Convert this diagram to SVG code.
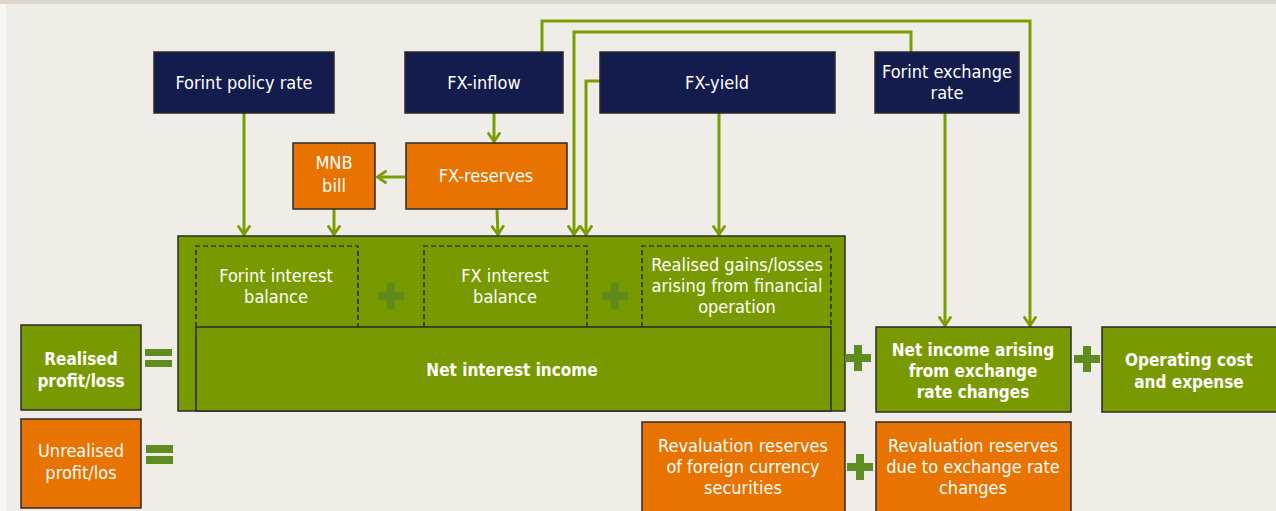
<svg xmlns="http://www.w3.org/2000/svg" width="1276" height="511" viewBox="0 0 1276 511">
<defs>
<marker id="arr" viewBox="0 0 11 14" markerWidth="11" markerHeight="14" refX="10" refY="7" orient="auto" markerUnits="userSpaceOnUse">
<path d="M0.5,0.8 L9.5,7 L0.5,13.2" fill="none" stroke="#7a9e00" stroke-width="2.8"/>
</marker>
</defs>
<style>
.navy{fill:#141c4d;stroke:#2a2a2a;stroke-width:1.5}
.org{fill:#e97300;stroke:#2a2a2a;stroke-width:1.5}
.grn{fill:#789a00;stroke:#2a2a2a;stroke-width:1.5}
.dash{fill:none;stroke:#111;stroke-width:1.2;stroke-dasharray:5 3}
.t{font-family:"DejaVu Sans Condensed","DejaVu Sans",sans-serif;font-size:18px;fill:#fff;text-anchor:middle}
.b{font-weight:bold;font-size:17px}
.c{fill:none;stroke:#7a9e00;stroke-width:3}
.op{fill:#5f8c1e}
.opi{fill:#608a1c}
</style>
<rect x="0" y="0" width="1276" height="511" fill="#f0ece8"/>
<rect x="0" y="0" width="1276" height="4" fill="#dcd4ca"/>
<rect x="0" y="4" width="6" height="507" fill="#f8f6f4"/>

<g id="connectors">
<line class="c" x1="244" y1="113" x2="244" y2="235" marker-end="url(#arr)"/>
<line class="c" x1="334" y1="209" x2="334" y2="235" marker-end="url(#arr)"/>
<line class="c" x1="494" y1="113" x2="494" y2="142" marker-end="url(#arr)"/>
<line class="c" x1="497" y1="209" x2="498" y2="235" marker-end="url(#arr)"/>
<line class="c" x1="405" y1="177" x2="377" y2="177" marker-end="url(#arr)"/>
<line class="c" x1="719" y1="113" x2="719" y2="235" marker-end="url(#arr)"/>
<polyline class="c" points="542,52 542,21 1030,21 1030,326" marker-end="url(#arr)"/>
<polyline class="c" points="911,52 911,32 574,32 574,235" marker-end="url(#arr)"/>
<polyline class="c" points="600,81 586,81 586,235" marker-end="url(#arr)"/>
<line class="c" x1="945" y1="113" x2="945" y2="326" marker-end="url(#arr)"/>
</g>

<g id="forint-policy-rate">
<rect class="navy" x="154" y="52" width="180" height="61"/>
<text class="t" x="244" y="89">Forint policy rate</text>
</g>
<g id="fx-inflow">
<rect class="navy" x="405" y="52" width="158" height="61"/>
<text class="t" x="484" y="89">FX-inflow</text>
</g>
<g id="fx-yield">
<rect class="navy" x="600" y="52" width="235" height="61"/>
<text class="t" x="717" y="89">FX-yield</text>
</g>
<g id="forint-exchange-rate">
<rect class="navy" x="875" y="52" width="144" height="61"/>
<text class="t" x="947" y="78">Forint exchange</text>
<text class="t" x="947" y="99">rate</text>
</g>
<g id="mnb-bill">
<rect class="org" x="293" y="143" width="82" height="66"/>
<text class="t" x="334" y="169">MNB</text>
<text class="t" x="334" y="192">bill</text>
</g>
<g id="fx-reserves">
<rect class="org" x="406" y="143" width="161" height="66"/>
<text class="t" x="486" y="182">FX-reserves</text>
</g>

<g id="net-interest-container">
<rect class="grn" x="178" y="236" width="667" height="175"/>
</g>
<g id="forint-interest-balance">
<path class="dash" d="M196,327 V246 H358 V327"/>
<text class="t" x="276" y="282">Forint interest</text>
<text class="t" x="276" y="303">balance</text>
</g>
<g id="plus-1"><path class="opi" d="M387,283 h8 v9 h9 v8 h-9 v9 h-8 v-9 h-9 v-8 h9 z"/></g>
<g id="fx-interest-balance">
<path class="dash" d="M424,327 V246 H587 V327"/>
<text class="t" x="505" y="282">FX interest</text>
<text class="t" x="505" y="303">balance</text>
</g>
<g id="plus-2"><path class="opi" d="M611,283 h8 v9 h9 v8 h-9 v9 h-8 v-9 h-9 v-8 h9 z"/></g>
<g id="realised-gains">
<path class="dash" d="M642,327 V246 H831 V327"/>
<text class="t" x="737" y="271">Realised gains/losses</text>
<text class="t" x="737" y="292">arising from financial</text>
<text class="t" x="737" y="313">operation</text>
</g>
<g id="net-interest-income">
<rect class="grn" x="196" y="327" width="635" height="84"/>
<text class="t b" x="512" y="376">Net interest income</text>
</g>

<g id="realised-profit-loss">
<rect class="grn" x="21" y="325" width="120" height="85"/>
<text class="t b" x="81" y="365">Realised</text>
<text class="t b" x="81" y="387">profit/loss</text>
</g>
<g id="eq-1"><rect class="op" x="145" y="349" width="27" height="7"/><rect class="op" x="145" y="360" width="27" height="7"/></g>
<g id="unrealised-profit-loss">
<rect class="org" x="21" y="419" width="120" height="89"/>
<text class="t" x="81" y="457">Unrealised</text>
<text class="t" x="81" y="479">profit/los</text>
</g>
<g id="eq-2"><rect class="op" x="146" y="445" width="27" height="8"/><rect class="op" x="146" y="456" width="27" height="8"/></g>

<g id="plus-3"><path class="op" d="M854,345 h8 v9 h9 v8 h-9 v9 h-8 v-9 h-9 v-8 h9 z"/></g>
<g id="net-income-exchange">
<rect class="grn" x="876" y="327" width="195" height="85"/>
<text class="t b" x="973" y="356">Net income arising</text>
<text class="t b" x="973" y="377">from exchange</text>
<text class="t b" x="973" y="398">rate changes</text>
</g>
<g id="plus-4"><path class="op" d="M1083,346 h8 v9 h9 v8 h-9 v9 h-8 v-9 h-9 v-8 h9 z"/></g>
<g id="operating-cost">
<rect class="grn" x="1102" y="327" width="178" height="85"/>
<text class="t b" x="1189" y="366">Operating cost</text>
<text class="t b" x="1189" y="388">and expense</text>
</g>

<g id="reval-securities">
<rect class="org" x="642" y="422" width="203" height="95"/>
<text class="t" x="743" y="452">Revaluation reserves</text>
<text class="t" x="743" y="473">of foreign currency</text>
<text class="t" x="743" y="494">securities</text>
</g>
<g id="plus-5"><path class="op" d="M856,454 h8 v9 h9 v8 h-9 v9 h-8 v-9 h-9 v-8 h9 z"/></g>
<g id="reval-exchange">
<rect class="org" x="876" y="422" width="195" height="95"/>
<text class="t" x="973" y="452">Revaluation reserves</text>
<text class="t" x="973" y="473">due to exchange rate</text>
<text class="t" x="973" y="494">changes</text>
</g>
</svg>
